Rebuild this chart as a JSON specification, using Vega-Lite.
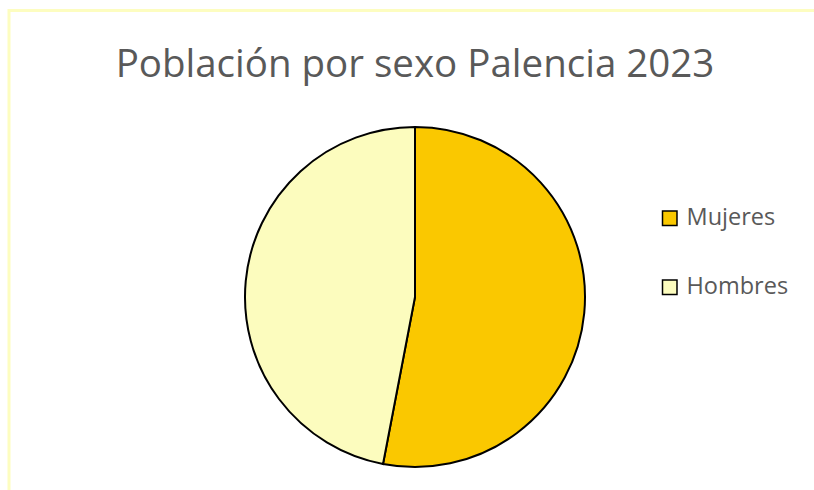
{
  "$schema": "https://vega.github.io/schema/vega-lite/v6.json",
  "width": 812,
  "height": 573,
  "autosize": {"type": "none"},
  "padding": {"left": 9, "top": 10.5, "right": -7, "bottom": -93.5},
  "background": "white",
  "title": {
    "text": "Población por sexo Palencia 2023",
    "font": "Open Sans",
    "fontSize": 38.5,
    "fontWeight": "normal",
    "color": "#595959",
    "anchor": "middle",
    "orient": "top",
    "baseline": "alphabetic",
    "offset": -80,
    "dy": 26
  },
  "config": {
    "view": {"stroke": null}
  },
  "layer": [
    {
      "data": {"values": [{"marco": "borde"}]},
      "mark": {"type": "rect", "fill": "transparent", "stroke": "#FDFDC0", "strokeWidth": 3},
      "encoding": {}
    },
    {
      "data": {
        "values": [
          {"sexo": "Mujeres", "poblacion": 40300},
          {"sexo": "Hombres", "poblacion": 35720}
        ]
      },
      "mark": {"type": "arc", "outerRadius": 170, "stroke": "black", "strokeWidth": 2},
      "encoding": {
        "theta": {"field": "poblacion", "type": "quantitative", "stack": true},
        "order": {"field": "sexo", "sort": "descending"},
        "color": {
          "field": "sexo",
          "type": "nominal",
          "scale": {"domain": ["Mujeres", "Hombres"], "range": ["#FAC800", "#FCFCBE"]},
          "legend": {
            "title": null,
            "orient": "none",
            "legendX": 649,
            "legendY": 196,
            "symbolType": "square",
            "symbolSize": 210,
            "symbolStrokeColor": "black",
            "symbolStrokeWidth": 1.5,
            "symbolOpacity": 1,
            "labelFont": "Open Sans",
            "labelFontSize": 23.5,
            "labelColor": "#595959",
            "labelOffset": 5,
            "rowPadding": 44
          }
        }
      }
    }
  ]
}
